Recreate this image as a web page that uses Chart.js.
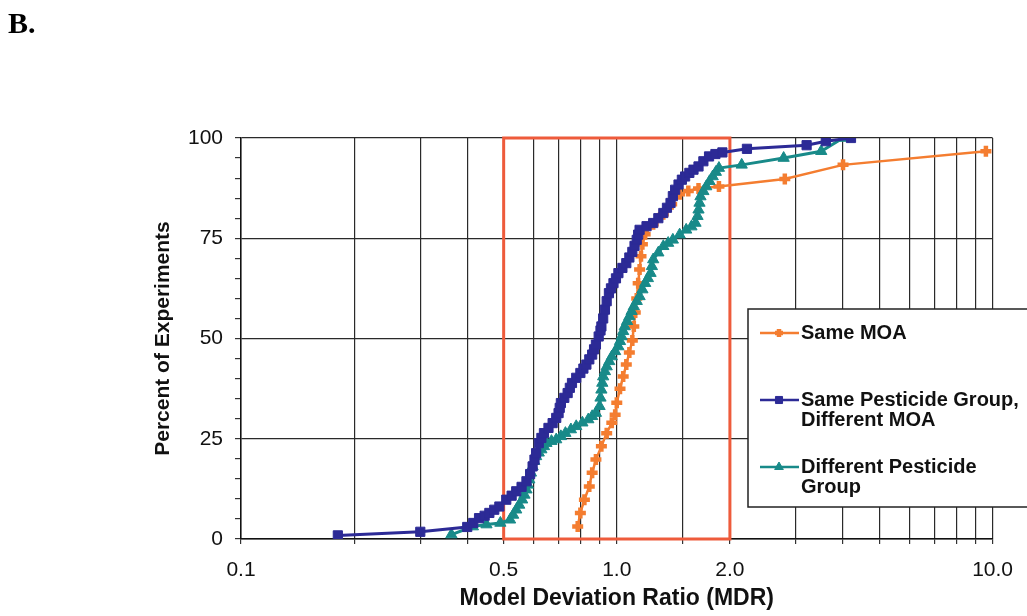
<!DOCTYPE html>
<html>
<head>
<meta charset="utf-8">
<script src="https://cdn.jsdelivr.net/npm/chart.js@4/dist/chart.umd.min.js"></script>
<style>
  html, body { margin: 0; padding: 0; background: #fff; }
  #wrap { position: relative; width: 1027px; height: 616px; }
  #panel { position: absolute; left: 8px; top: 6px; font: bold 30px "Liberation Serif", serif; color: #000; }
</style>
</head>
<body>
<div id="wrap">
  <canvas id="mdrChart" width="1027" height="616"></canvas>
  <div id="panel">B.</div>
</div>
<script>
// series: cumulative percent of experiments vs model deviation ratio
const sameMoaX = [0.787, 0.80, 0.82, 0.845, 0.86, 0.88, 0.91, 0.94, 0.97, 0.99, 1.0, 1.02, 1.04, 1.06, 1.08, 1.10, 1.11, 1.12, 1.13, 1.14, 1.15, 1.16, 1.17, 1.19, 1.25, 1.33, 1.40, 1.47, 1.55, 1.65, 1.87, 2.8, 4.0, 9.6];
const sameMoaY = [3.1, 6.5, 9.8, 13.1, 16.5, 19.8, 23.1, 26.4, 29.0, 31.0, 34.0, 37.5, 40.5, 43.5, 46.5, 49.5, 53.0, 56.5, 60.0, 63.8, 67.2, 70.5, 73.5, 76.0, 78.5, 81.0, 83.5, 86.0, 86.8, 87.4, 87.9, 89.8, 93.3, 96.7];

const sameGroupX = [0.181, 0.30, 0.40, 0.415, 0.43, 0.445, 0.458, 0.472, 0.487, 0.508, 0.525, 0.54, 0.558, 0.575, 0.588, 0.597, 0.604, 0.61, 0.62, 0.63, 0.64, 0.658, 0.675, 0.69, 0.70, 0.705, 0.71, 0.725, 0.74, 0.75, 0.76, 0.78, 0.80, 0.815, 0.83, 0.845, 0.86, 0.87, 0.88, 0.895, 0.905, 0.91, 0.92, 0.93, 0.94, 0.953, 0.965, 0.98, 0.995, 1.01, 1.035, 1.06, 1.08, 1.10, 1.115, 1.13, 1.14, 1.15, 1.20, 1.25, 1.29, 1.33, 1.36, 1.39, 1.41, 1.43, 1.46, 1.49, 1.52, 1.56, 1.60, 1.65, 1.70, 1.76, 1.83, 1.91, 2.22, 3.2, 3.6, 4.2];
const sameGroupY = [0.9, 1.8, 3.0, 4.0, 5.2, 5.8, 6.5, 7.3, 8.1, 9.8, 10.8, 11.9, 13.0, 14.4, 16.2, 18.1, 19.8, 21.4, 23.9, 25.2, 26.4, 27.7, 28.9, 30.2, 31.4, 32.7, 33.9, 35.2, 36.4, 37.7, 38.9, 40.2, 41.4, 42.5, 43.5, 44.8, 46.0, 47.3, 48.5, 50.5, 52.0, 53.0, 55.0, 57.2, 59.3, 61.3, 62.5, 63.8, 65.0, 66.3, 67.6, 68.8, 70.2, 71.6, 73.1, 74.6, 75.9, 77.1, 78.0, 78.8, 80.0, 81.3, 82.6, 83.8, 85.5, 87.1, 88.4, 89.6, 90.4, 91.3, 92.1, 92.9, 94.2, 95.4, 96.0, 96.4, 97.3, 98.2, 99.2, 100];

const diffGroupX = [0.363, 0.414, 0.45, 0.49, 0.52, 0.53, 0.54, 0.55, 0.56, 0.568, 0.575, 0.58, 0.585, 0.591, 0.597, 0.603, 0.61, 0.62, 0.63, 0.64, 0.65, 0.67, 0.69, 0.71, 0.73, 0.755, 0.78, 0.81, 0.84, 0.86, 0.88, 0.90, 0.905, 0.91, 0.915, 0.92, 0.93, 0.94, 0.955, 0.97, 0.99, 1.01, 1.02, 1.03, 1.04, 1.05, 1.065, 1.08, 1.095, 1.11, 1.13, 1.15, 1.17, 1.19, 1.21, 1.23, 1.24, 1.25, 1.29, 1.33, 1.37, 1.41, 1.47, 1.53, 1.58, 1.62, 1.64, 1.65, 1.66, 1.67, 1.70, 1.73, 1.765, 1.80, 1.835, 1.87, 2.15, 2.78, 3.5, 4.0];
const diffGroupY = [1.1, 3.1, 3.6, 4.0, 4.8, 6.0, 7.3, 8.5, 9.8, 11.0, 12.3, 13.5, 14.8, 16.5, 18.1, 19.4, 20.6, 21.5, 22.3, 23.1, 23.9, 24.4, 24.8, 25.6, 26.4, 27.3, 28.1, 29.0, 29.8, 30.6, 31.4, 33.1, 35.2, 37.2, 38.9, 40.5, 41.8, 43.0, 44.3, 45.5, 46.8, 48.0, 49.3, 50.5, 51.8, 53.0, 54.3, 55.5, 56.8, 58.0, 59.3, 60.5, 62.2, 63.8, 65.0, 66.3, 68.0, 69.7, 71.4, 73.0, 73.8, 74.6, 75.9, 77.1, 77.9, 78.8, 80.5, 82.1, 83.8, 85.4, 86.7, 87.9, 89.2, 90.4, 91.5, 92.5, 93.3, 95.0, 96.7, 100];

const seriesNames = ['Same MOA', 'Same Pesticide Group, Different MOA', 'Different Pesticide Group'];
const xTickLabels = [0.1, 0.5, 1.0, 2.0, 10.0];
const yTickLabels = [0, 25, 50, 75, 100];
const mdrBand = [0.5, 2.0];

const toPoints = (xs, ys) => xs.map((x, i) => ({ x: x, y: ys[i] }));

// red box marking the 0.5 - 2.0 band
const bandBox = {
    id: 'bandBox',
    beforeDatasetsDraw(chart) {
        const { ctx, scales: { x, y } } = chart;
        const l = x.getPixelForValue(mdrBand[0]);
        const r = x.getPixelForValue(mdrBand[1]);
        const t = y.getPixelForValue(100);
        const b = y.getPixelForValue(0);
        ctx.save();
        ctx.strokeStyle = '#EE5B3B';
        ctx.lineWidth = 3;
        ctx.strokeRect(l, t, r - l, b - t);
        ctx.restore();
    }
};

// legend box as drawn in the original (overlapping the plot, cut at the right)
const boxLegend = {
    id: 'boxLegend',
    afterDraw(chart) {
        const ctx = chart.ctx;
        ctx.save();
        ctx.fillStyle = '#fff';
        ctx.fillRect(748, 309, 290, 198);
        ctx.strokeStyle = '#222';
        ctx.lineWidth = 1.5;
        ctx.strokeRect(748, 309, 290, 198);
        const rows = [
            { lines: ['Same MOA'], y: 333 },
            { lines: ['Same Pesticide Group,', 'Different MOA'], y: 400 },
            { lines: ['Different Pesticide', 'Group'], y: 467 }
        ];
        ctx.font = 'bold 20px "Liberation Sans", Arial, sans-serif';
        ctx.textBaseline = 'middle';
        rows.forEach((row, i) => {
            const ds = chart.data.datasets[i];
            ctx.strokeStyle = ds.borderColor;
            ctx.lineWidth = 2.5;
            ctx.beginPath();
            ctx.moveTo(760, row.y);
            ctx.lineTo(799, row.y);
            ctx.stroke();
            ctx.fillStyle = ds.pointBackgroundColor;
            ctx.lineWidth = ds.pointBorderWidth;
            Chart.helpers.drawPoint(ctx, {
                pointStyle: ds.pointStyle,
                radius: ds.pointRadius - 1.5,
                borderWidth: ds.pointBorderWidth,
                rotation: 0
            }, 779, row.y);
            ctx.fillStyle = '#111';
            row.lines.forEach((txt, j) => ctx.fillText(txt, 801, row.y + j * 20));
        });
        ctx.restore();
    }
};

const ctx = document.getElementById('mdrChart').getContext('2d');
new Chart(ctx, {
    type: 'scatter',
    data: {
        datasets: [
            {
                label: seriesNames[0],
                data: toPoints(sameMoaX, sameMoaY),
                showLine: true,
                borderColor: '#F47D30',
                backgroundColor: '#F47D30',
                pointBackgroundColor: '#F47D30',
                pointStyle: 'cross',
                pointRadius: 5.5,
                pointBorderWidth: 4.5,
                borderWidth: 2.5,
                order: 3
            },
            {
                label: seriesNames[1],
                data: toPoints(sameGroupX, sameGroupY),
                showLine: true,
                borderColor: '#2C2A96',
                backgroundColor: '#2C2A96',
                pointBackgroundColor: '#2C2A96',
                pointStyle: 'rect',
                pointRadius: 6.5,
                pointBorderWidth: 1,
                borderWidth: 3,
                order: 1
            },
            {
                label: seriesNames[2],
                data: toPoints(diffGroupX, diffGroupY),
                showLine: true,
                borderColor: '#188A89',
                backgroundColor: '#188A89',
                pointBackgroundColor: '#188A89',
                pointStyle: 'triangle',
                pointRadius: 6.5,
                pointBorderWidth: 1,
                borderWidth: 3,
                order: 2
            }
        ]
    },
    plugins: [bandBox, boxLegend],
    options: {
        responsive: false,
        animation: false,
        layout: { padding: { left: 150, top: 138, right: 33, bottom: 0 } },
        plugins: {
            legend: { display: false },
            tooltip: { enabled: false }
        },
        scales: {
            x: {
                type: 'logarithmic',
                min: 0.1,
                max: 10,
                afterFit: s => { s.height = 77; },
                border: { color: '#111', width: 1.5 },
                grid: { color: '#2a2a2a', lineWidth: 1.2, tickLength: 5, tickColor: '#333' },
                ticks: {
                    autoSkip: false,
                    maxRotation: 0,
                    padding: 14,
                    color: '#111',
                    font: { family: '"Liberation Sans", Arial, sans-serif', size: 21 },
                    callback: v => xTickLabels.some(t => Math.abs(t - v) < 1e-9) ? v.toFixed(1) : ''
                },
                title: {
                    display: true,
                    text: 'Model Deviation Ratio (MDR)',
                    color: '#111',
                    padding: { top: 0, bottom: 4 },
                    font: { family: '"Liberation Sans", Arial, sans-serif', size: 23, weight: 'bold' }
                }
            },
            y: {
                min: 0,
                max: 100,
                afterFit: s => { s.width = 91; },
                border: { color: '#111', width: 1.5 },
                grid: {
                    color: c => yTickLabels.includes(c.tick.value) ? '#2a2a2a' : 'rgba(0,0,0,0)',
                    tickColor: '#333',
                    lineWidth: 1.2,
                    tickLength: 6
                },
                ticks: {
                    stepSize: 5,
                    autoSkip: false,
                    padding: 12,
                    color: '#111',
                    font: { family: '"Liberation Sans", Arial, sans-serif', size: 21 },
                    callback: v => yTickLabels.includes(v) ? String(v) : ''
                },
                title: {
                    display: true,
                    text: 'Percent of Experiments',
                    color: '#111',
                    padding: { top: 1, bottom: 0 },
                    font: { family: '"Liberation Sans", Arial, sans-serif', size: 21, weight: 'bold' }
                }
            }
        }
    }
});
</script>
</body>
</html>
